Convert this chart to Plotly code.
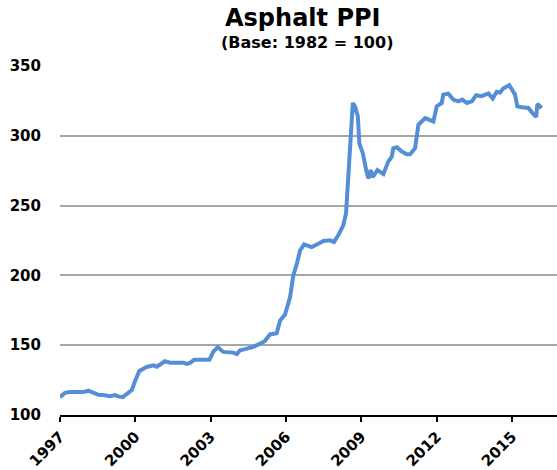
import plotly.graph_objects as go

# Asphalt PPI (Base: 1982 = 100)
years = [
    1997.00, 1997.20, 1997.40, 1997.93, 1998.13, 1998.26, 1998.53, 1998.72, 1998.99, 1999.19,
    1999.32, 1999.50, 1999.66, 1999.86, 1999.99, 2000.16, 2000.45, 2000.72, 2000.85, 2001.18,
    2001.38, 2001.91, 2002.05, 2002.18, 2002.34, 2002.95, 2003.11, 2003.28, 2003.50, 2003.90,
    2004.04, 2004.17, 2004.37, 2004.70, 2004.97, 2005.16, 2005.36, 2005.63, 2005.76, 2005.96,
    2006.16, 2006.29, 2006.43, 2006.56, 2006.72, 2007.02, 2007.29, 2007.49, 2007.75, 2007.91,
    2008.08, 2008.28, 2008.39, 2008.44, 2008.51, 2008.58, 2008.66, 2008.75, 2008.86, 2008.92,
    2009.06, 2009.19, 2009.28, 2009.37, 2009.45, 2009.64, 2009.88, 2010.07, 2010.21, 2010.27,
    2010.41, 2010.61, 2010.81, 2010.94, 2011.14, 2011.27, 2011.54, 2011.87, 2012.00, 2012.20,
    2012.26, 2012.46, 2012.66, 2012.86, 2013.02, 2013.20, 2013.40, 2013.57, 2013.79, 2014.06,
    2014.23, 2014.39, 2014.52, 2014.65, 2014.89, 2015.12, 2015.21, 2015.39, 2015.65, 2015.79,
    2015.96, 2016.01, 2016.18,
]
ppi = [
    112.8, 115.9, 116.4, 116.4, 117.4, 116.6, 114.5, 114.3, 113.5, 114.3,
    113.3, 112.8, 115.2, 117.9, 124.3, 131.5, 134.4, 135.6, 134.6, 138.5,
    137.5, 137.5, 136.6, 137.3, 139.5, 139.5, 145.5, 148.6, 145.2, 144.7,
    143.6, 146.4, 147.2, 148.8, 151.1, 153.1, 157.7, 158.5, 167.5, 171.9,
    184.3, 199.9, 208.3, 217.9, 222.2, 220.3, 222.7, 224.6, 225.1, 223.9,
    228.7, 235.9, 244.4, 261.1, 285.1, 308.9, 323.5, 321.0, 313.8, 294.6,
    287.5, 275.5, 269.5, 275.5, 270.3, 275.5, 272.6, 281.5, 285.1, 291.1,
    291.8, 288.7, 286.8, 286.8, 291.1, 307.9, 312.7, 310.3, 321.1, 323.5,
    329.5, 330.2, 325.9, 324.7, 325.9, 323.5, 324.7, 329.1, 328.4, 330.3,
    326.7, 331.5, 331.0, 333.9, 336.3, 329.5, 321.1, 320.4, 319.9, 316.8,
    313.5, 322.8, 319.9,
]

x_tick_vals = [1997, 2000, 2003, 2006, 2009, 2012, 2015]
x_tick_text = ["1997", "2000", "2003", "2006", "2009", "2012", "2015"]
y_tick_vals = [100, 150, 200, 250, 300, 350]
y_tick_text = ["100", "150", "200", "250", "300", "350"]

title_text = "Asphalt PPI"
subtitle_text = "(Base: 1982 = 100)"

fig = go.Figure()
fig.add_trace(go.Scatter(
    x=years, y=ppi, mode="lines",
    line=dict(color="#558ed5", width=4),
    hoverinfo="x+y", showlegend=False,
))

tick_font = dict(family="DejaVu Sans", size=15, color="black", weight="bold")

fig.update_layout(
    width=557, height=470,
    margin=dict(l=60, r=0, t=66, b=55, pad=0),
    paper_bgcolor="white", plot_bgcolor="white",
    xaxis=dict(
        range=[1997, 2016.79],
        tickmode="array", tickvals=x_tick_vals, ticktext=x_tick_text,
        tickangle=-45, tickfont=tick_font,
        showgrid=False, zeroline=False,
        showline=True, linecolor="black", linewidth=2,
        ticks="outside", ticklen=5, tickwidth=1.5, tickcolor="black",
    ),
    yaxis=dict(
        range=[100, 350],
        tickmode="array", tickvals=y_tick_vals, ticktext=y_tick_text,
        tickfont=tick_font,
        showgrid=True, gridcolor="#a6a6a6", gridwidth=1.5,
        zeroline=False, showline=False, ticks="",
        ticklabelstandoff=18,
    ),
    annotations=[
        dict(text=title_text, xref="paper", yref="paper",
             x=(302 - 60) / 497, y=(415 - 18) / 349,
             xanchor="center", yanchor="middle", showarrow=False,
             font=dict(family="DejaVu Sans", size=24, color="black", weight="bold")),
        dict(text=subtitle_text, xref="paper", yref="paper",
             x=(307 - 60) / 497, y=(415 - 43) / 349,
             xanchor="center", yanchor="middle", showarrow=False,
             font=dict(family="DejaVu Sans", size=16, color="black", weight="bold")),
    ],
)

fig.write_html(
    "out.html",
    config={"displayModeBar": False},
    post_script="document.body.style.margin='0';document.body.style.overflow='hidden';",
)
